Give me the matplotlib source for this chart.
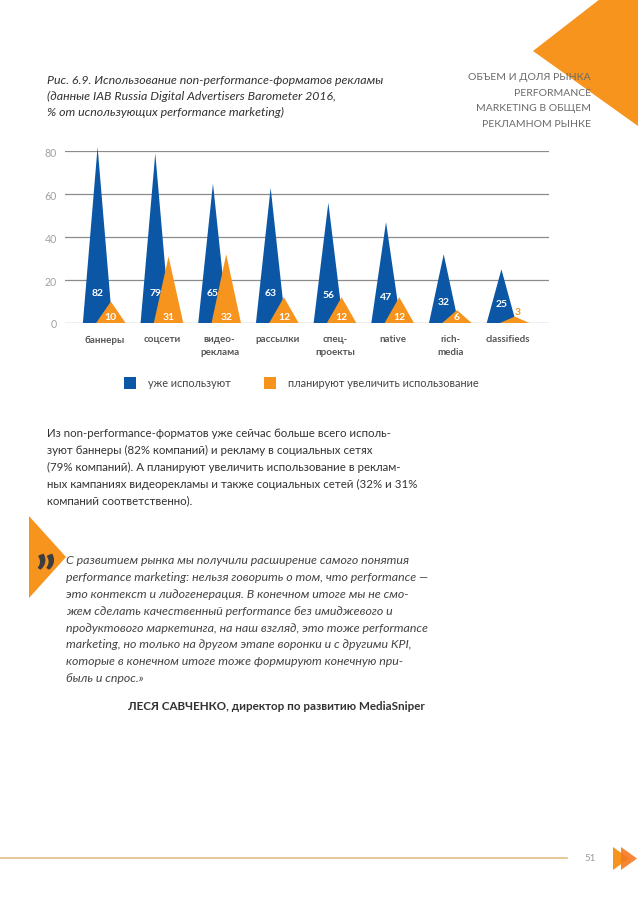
import matplotlib
matplotlib.use("Agg")
import matplotlib.pyplot as plt
from matplotlib.patches import Polygon, Rectangle
from matplotlib.transforms import Affine2D

plt.rcParams['font.family'] = ['Lato', 'DejaVu Sans']

# ---------------- data ----------------
categories = ["баннеры", "соцсети", "видео-\nреклама", "рассылки", "спец-\nпроекты",
              "native", "rich-\nmedia", "classifieds"]
already_use = [82, 79, 65, 63, 56, 47, 32, 25]
plan_increase = [10, 31, 32, 12, 12, 12, 6, 3]
series_names = ["уже используют", "планируют увеличить использование"]
yticks = [0, 20, 40, 60, 80]

title_lines = ["Рис. 6.9. Использование non-performance-форматов рекламы",
               "(данные IAB Russia Digital Advertisers Barometer 2016,",
               "% от использующих performance marketing)"]
header_lines = ["ОБЪЕМ И ДОЛЯ РЫНКА", "PERFORMANCE", "MARKETING В ОБЩЕМ", "РЕКЛАМНОМ РЫНКЕ"]
body_lines = ["Из non-performance-форматов уже сейчас больше всего исполь-",
              "зуют баннеры (82% компаний) и рекламу в социальных сетях",
              "(79% компаний). А планируют увеличить использование в реклам-",
              "ных кампаниях видеорекламы и также социальных сетей (32% и 31%",
              "компаний соответственно)."]
quote_lines = ["С развитием рынка мы получили расширение самого понятия",
               "performance marketing: нельзя говорить о том, что performance —",
               "это контекст и лидогенерация. В конечном итоге мы не смо-",
               "жем сделать качественный performance без имиджевого и",
               "продуктового маркетинга, на наш взгляд, это тоже performance",
               "marketing, но только на другом этапе воронки и с другими KPI,",
               "которые в конечном итоге тоже формируют конечную при-",
               "быль и спрос.»"]
author = "ЛЕСЯ САВЧЕНКО, директор по развитию MediaSniper"
page_number = "51"

BLUE = "#0b57a5"
ORANGE = "#f7941e"
W, H = 638, 903

fig = plt.figure(figsize=(W / 100, H / 100), dpi=100)
fig.patch.set_facecolor("white")
px = Affine2D().scale(1 / W, -1 / H).translate(0, 1) + fig.transFigure


def T(x, y, s, **kw):
    kw.setdefault("transform", px)
    return fig.text(x, y, s, **kw)


# decorative shapes
fig.add_artist(Polygon([(533, 52), (600, 0), (638, 0), (638, 127)], closed=True,
                       facecolor=ORANGE, edgecolor="none", transform=px, zorder=0))
fig.add_artist(Polygon([(29, 517), (66, 558), (29, 599)], closed=True,
                       facecolor=ORANGE, edgecolor="none", transform=px, zorder=0))
fig.add_artist(Polygon([(613, 848), (613, 871), (629, 859.5)], closed=True,
                       facecolor=ORANGE, edgecolor="none", transform=px))
fig.add_artist(Polygon([(621, 848), (621, 871), (637, 859.5)], closed=True,
                       facecolor="#f47a20", edgecolor="none", alpha=0.9, transform=px))
fig.add_artist(plt.Line2D([0, 567], [859, 859], color="#e2bf86", lw=1.2, transform=px))

# ---------------- chart ----------------
ax = fig.add_axes([65 / W, 1 - 324 / H, (549 - 65) / W, (324 - 152.3) / H])
ax.set_xlim(-0.68, 7.71)
ax.set_ylim(0, 80)
for s in ax.spines.values():
    s.set_visible(False)
ax.set_yticks(yticks)
ax.tick_params(axis="y", length=0, pad=6, labelsize=7.6, labelcolor="#a0a0a0")
ax.set_xticks([])
for yv in yticks:
    ax.axhline(yv, color="#8c8c8c", lw=0.9, zorder=1)

off, hw = 0.115, 0.255
for i, (b, o) in enumerate(zip(already_use, plan_increase)):
    xb = i - off
    xo = i + off
    ax.fill([xb - hw, xb, xb + hw], [0, b, 0], color=BLUE, zorder=2, clip_on=False, lw=0)
    ax.fill([xo - hw, xo, xo + hw], [0, o, 0], color=ORANGE, zorder=3, clip_on=False, lw=0)
    ly = 14 - max(0, 60 - b) * 0.14
    ax.text(xb, ly, str(b), color="white", fontsize=7.5, fontweight="bold",
            ha="center", va="center", zorder=4)
    if o >= 5:
        ax.text(xo, 3, str(o), color="white", fontsize=7.5, fontweight="bold",
                ha="center", va="center", zorder=4)
    else:
        ax.text(xo + 0.06, o + 2.2, str(o), color=ORANGE, fontsize=7.5, fontweight="bold",
                ha="center", va="center", zorder=4)
    for k, line in enumerate(categories[i].split("\n")):
        ax.text(i, -0.093 - k * 0.074, line, transform=ax.get_xaxis_transform(),
                color="#555555", fontsize=7, fontweight="bold", ha="center", va="center")

# legend
fig.add_artist(Rectangle((124, 378), 12, 12, facecolor=BLUE, edgecolor="none", transform=px))
T(148, 384, series_names[0], fontsize=7.8, color="#444444", va="center")
fig.add_artist(Rectangle((264, 378), 12, 12, facecolor=ORANGE, edgecolor="none", transform=px))
T(288, 384, series_names[1], fontsize=7.9, color="#444444", va="center")

# title
for k, line in enumerate(title_lines):
    T(47, 80.5 + k * 16, line, fontsize=8.9, style="italic", color="#333333", va="center")

# header
for k, line in enumerate(header_lines):
    T(591, 77.5 + k * 15.6, line, fontsize=7.5, color="#6a6a6a", ha="right", va="center")

# body
for k, line in enumerate(body_lines):
    T(47, 433.3 + k * 16.9, line, fontsize=8.3, color="#333333", va="center")

# quote
T(45, 578, "”", fontsize=36, fontweight="black", color="#3d3d3d", ha="center", va="center")
for k, line in enumerate(quote_lines):
    T(66, 561 + k * 16.8, line, fontsize=8.9, style="italic", color="#444444", va="center")
T(425, 706.7, author, fontsize=8.4, fontweight="bold", color="#333333", ha="right", va="center")

T(590, 859, page_number, fontsize=7, color="#999999", ha="center", va="center")

fig.savefig("out.png", dpi=100, facecolor="white")
